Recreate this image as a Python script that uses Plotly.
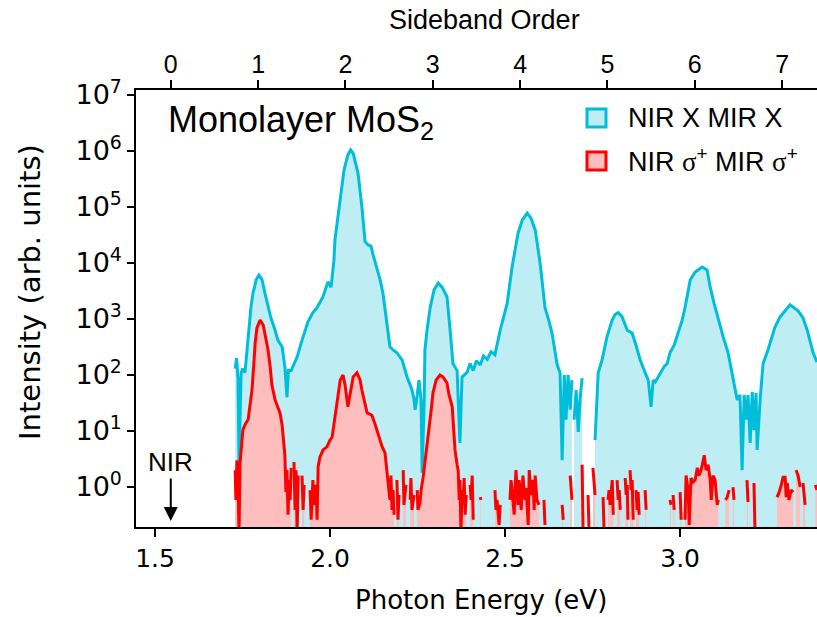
import plotly.graph_objects as go

# ---------------- data ----------------
NIR_EV = 1.545          # NIR photon energy (sideband 0)
MIR_EV = 0.2495         # sideband spacing
sideband_orders = [0, 1, 2, 3, 4, 5, 6, 7]
x_tick_vals = [1.5, 2.0, 2.5, 3.0]
x_tick_text = ["1.5", "2.0", "2.5", "3.0"]
y_exponents = [0, 1, 2, 3, 4, 5, 6, 7]

# NIR X MIR X
cyan_energy = [
    1.729, 1.733, 1.737, 1.740, 1.746, 1.751, 1.757, 1.763, 1.769, 1.774, 1.780, 1.789,
    1.797, 1.806, 1.814, 1.823, 1.831, 1.843, 1.851, 1.863, 1.871, 1.877, 1.881, 1.889,
    1.894, 1.906, 1.920, 1.937, 1.951, 1.963, 1.980, 1.994, 2.003, 2.011, 2.014, 2.023,
    2.029, 2.040, 2.051, 2.059, 2.066, 2.074, 2.080, 2.091, 2.100, 2.109, 2.117, 2.123,
    2.131, 2.143, 2.151, 2.160, 2.171, 2.180, 2.191, 2.206, 2.214, 2.220, 2.229, 2.234,
    2.240, 2.243, 2.249, 2.254, 2.260, 2.263, 2.269, 2.271, 2.277, 2.286, 2.297, 2.309,
    2.320, 2.334, 2.343, 2.351, 2.363, 2.371, 2.377, 2.391, 2.400, 2.409, 2.418, 2.429,
    2.438, 2.449, 2.460, 2.471,
    2.486, 2.497, 2.506, 2.520, 2.529, 2.537, 2.549, 2.563, 2.574, 2.586, 2.600, 2.614,
    2.626, 2.634, 2.649, 2.657, 2.663, 2.669, 2.674, 2.680, 2.686, 2.691, 2.694, 2.697,
    2.703, 2.709, 2.714, 2.720, 2.740, 2.757, 2.763, 2.766, 2.777, 2.791, 2.806, 2.814,
    2.823, 2.834, 2.849, 2.863, 2.874, 2.886, 2.900, 2.909, 2.917, 2.923, 2.929, 2.943,
    2.954, 2.963, 2.971, 2.983, 2.994, 3.006, 3.014, 3.029, 3.043, 3.057, 3.063, 3.077,
    3.086, 3.097, 3.109, 3.123, 3.137, 3.151, 3.163, 3.171, 3.177, 3.183, 3.189, 3.194,
    3.200, 3.206, 3.211, 3.217, 3.220, 3.229, 3.237, 3.251, 3.271, 3.286, 3.300, 3.314,
    3.337, 3.351, 3.363, 3.380, 3.391,
]
cyan_intensity = [
    1.3e2, 2.0e2, 88, 2.8, 1.1e2, 1.3e2, 1.1e2, 2.8e2, 6.3e2, 1.6e3, 2.9e3, 5.0e3,
    6.1e3, 5.0e3, 2.9e3, 1.8e3, 1.05e3, 6.3e2, 4.2e2, 3.2e2, 1.4e2, 40, 1.2e2, 1.2e2,
    1.4e2, 2.1e2, 4.2e2, 8.9e2, 1.3e3, 1.6e3, 2.5e3, 4.6e3, 3.7e3, 1.1e4, 2.6e4, 7.2e4,
    1.5e5, 4.6e5, 8.5e5, 1.04e6, 9.1e5, 5.6e5, 4.0e5, 1.0e5, 2.4e4, 2.1e4, 2.0e4, 1.4e4,
    9.2e3, 5.0e3, 2.9e3, 9.6e2, 3.2e2, 2.8e2, 2.5e2, 1.85e2, 1.2e2, 92, 66, 54,
    36, 24, 44, 81, 36, 1.8, 36, 2.8e2, 6.3e2, 1.6e3, 3.3e3, 4.4e3,
    3.7e3, 2.5e3, 6.3e2, 1.6e2, 1.2e2, 6.1, 92, 1.1e2, 1.6e2, 1.2e2, 1.8e2, 1.5e2,
    2.2e2, 1.9e2, 2.6e2, 2.3e2,
    6.3e2, 1.2e3, 1.9e3, 8.5e3, 1.7e4, 3.4e4, 5.8e4, 7.8e4, 6.3e4, 3.9e4, 1.0e4, 1.6e3,
    8.9e2, 5.6e2, 1.5e2, 1.1e2, 3.0, 1.0e2, 16, 1.0e2, 24, 81, None, 16,
    54, 9.6, 36, 88, None, 6.9, 36, 1.1e2, 1.85e2, 4.8e2, 9.6e2, 1.2e3,
    1.3e3, 1.1e3, 6.3e2, 5.6e2, 3.4e2, 1.85e2, 1.1e2, 81, 27, 81, 75, 1.1e2,
    1.4e2, 1.6e2, 2.5e2, 3.4e2, 5.6e2, 9.6e2, 1.6e3, 5.0e3, 6.9e3, 8.1e3, 8.5e3, 7.5e3,
    3.7e3, 1.9e3, 9.6e2, 4.8e2, 2.5e2, 81, 36, 44, 2.0, 44, 16, 44,
    6.1, 50, 10.4, 48, 4.6, 40, 1.6e2, 2.8e2, 7.2e2, 1.1e3, 1.4e3, 1.8e3,
    1.4e3, 1.05e3, 6.3e2, 2.5e2, 1.7e2,
]

# NIR sigma+ MIR sigma+
red_energy = [
    1.729, 1.731, 1.734, 1.737, 1.740, 1.743, 1.751, 1.757, 1.766, 1.771, 1.777, 1.783,
    1.786, 1.791, 1.800, 1.809, 1.814, 1.823, 1.829, 1.834, 1.843, 1.849, 1.857, 1.863,
    1.866, 1.871, 1.874, 1.877, 1.880, 1.883, 1.886, 1.889, 1.893, 1.897, 1.900, 1.903,
    1.906, 1.909, 1.915, 1.920, 1.923, 1.926, 1.935, 1.943, 1.946, 1.951, 1.954, 1.960,
    1.963, 1.966, 1.971, 1.980, 1.991, 2.000, 2.006, 2.011, 2.014, 2.020, 2.029, 2.037,
    2.043, 2.051, 2.057, 2.066, 2.077, 2.086, 2.091, 2.100, 2.106, 2.114, 2.120, 2.129,
    2.134, 2.143, 2.149, 2.157, 2.163, 2.166, 2.171, 2.174, 2.177, 2.180, 2.183, 2.187,
    2.191, 2.194, 2.197, 2.203, 2.209, 2.211, 2.217, 2.223, 2.229, 2.231, 2.234, 2.240,
    2.245, 2.249, 2.251, 2.257, 2.260, 2.266, 2.274, 2.280, 2.289, 2.294, 2.303, 2.314,
    2.323, 2.334, 2.340, 2.349, 2.357, 2.363, 2.366, 2.369, 2.371, 2.374, 2.377, 2.380,
    2.383, 2.386, 2.389, 2.395, 2.400, 2.403, 2.406, 2.409, 2.420, 2.429, 2.431, 2.450,
    2.471, 2.474, 2.477, 2.483, 2.486, 2.500, 2.514, 2.517, 2.520, 2.526, 2.529, 2.531,
    2.537, 2.540, 2.543, 2.546, 2.551, 2.557, 2.560, 2.566, 2.569, 2.574, 2.580, 2.583,
    2.586, 2.591, 2.597, 2.604, 2.611, 2.614, 2.640, 2.663, 2.666, 2.676, 2.686, 2.691,
    2.705, 2.720, 2.723, 2.730, 2.737, 2.740, 2.746, 2.751, 2.757, 2.770, 2.780, 2.783,
    2.789, 2.794, 2.797, 2.800, 2.806, 2.809, 2.814, 2.820, 2.823, 2.826, 2.829, 2.836,
    2.843, 2.846, 2.849, 2.851, 2.854, 2.857, 2.860, 2.863, 2.866, 2.870, 2.874, 2.877,
    2.880, 2.883, 2.890, 2.900, 2.903, 2.930, 2.951, 2.960, 2.971, 2.974, 2.977, 2.980,
    2.983, 2.990, 3.000, 3.003, 3.009, 3.014, 3.017, 3.023, 3.026, 3.031, 3.037, 3.043,
    3.049, 3.054, 3.060, 3.066, 3.069, 3.074, 3.080, 3.086, 3.089, 3.094, 3.100, 3.106,
    3.109, 3.118, 3.129, 3.134, 3.140, 3.146, 3.151, 3.154, 3.170, 3.191, 3.194, 3.200,
    3.211, 3.214, 3.250, 3.277, 3.283, 3.289, 3.294, 3.300, 3.303, 3.306, 3.311, 3.317,
    3.323, 3.327, 3.331, 3.337, 3.343, 3.347, 3.351, 3.357, 3.370, 3.386, 3.391,
]
red_intensity = [
    2.0, 0.59, 3.0, 1.33, 0.15, 2.7, 10.4, 13, 16, 29, 54, 1.85e2,
    3.7e2, 6.9e2, 9.6e2, 7.8e2, 5.6e2, 2.8e2, 1.4e2, 66, 36, 29, 21, 13,
    6.9, 3.7, 0.81, 2.0, 0.32, 1.33, 0.59, 2.2, None, 2.8, 0.39, 2.0,
    0.15, 1.6, None, 1.6, 0.39, 1.09, None, 0.88, 0.26, 1.33, 0.48, 1.09,
    0.26, 2.3, 3.4, 4.6, 5.2, 6.9, 7.8, 13, 18, 36, 81, 1.0e2,
    66, 27, 44, 92, 1.1e2, 81, 54, 29, 21, 20, 19, 13,
    10.4, 6.9, 5.2, 4.1, 2.0, 1.18, 0.59, 1.6, 0.39, 0.88, 0.32, None,
    1.33, 0.26, 0.72, None, 2.0, 0.48, 1.09, None, 0.59, 1.45, 0.39, 0.72,
    None, 0.88, 0.39, 0.52, 0.88, 1.5, 3.7, 9.2, 24, 48, 81, 1.0e2,
    92, 72, 44, 27, 4.6, 2.5, 2.0, 0.59, 1.33, 0.15, 0.88, 0.48,
    1.45, 0.32, 0.72, None, 1.09, 0.59, 1.6, 0.26, None, 0.66, 0.59, None,
    0.88, 0.39, 0.59, 0.21, 0.48, None, 0.59, 1.33, 0.88, 0.32, 1.09, 2.0,
    0.48, 1.33, 0.88, 0.39, 1.6, 0.59, 0.96, 0.21, 2.0, 0.72, 1.33, 0.39,
    1.6, 0.59, 0.48, None, 0.59, 0.21, None, 0.48, 0.26, None, 1.6, 0.59,
    None, 2.5, 0.15, None, 0.72, 0.15, None, 2.2, 0.72, None, 0.66, 0.15,
    None, 0.59, 0.88, 0.48, 1.33, 0.32, None, 1.33, 0.59, 0.88, 0.39, None,
    1.45, 0.72, 1.09, 0.26, None, 2.0, 0.88, 1.33, 0.26, None, 0.88, 0.39,
    0.81, 0.32, None, 0.88, 0.39, None, 0.56, None, 0.59, 0.48, None, 0.72,
    0.39, None, 0.81, 0.26, None, 0.26, 1.6, 0.88, 0.21, 1.45, 1.23, 1.33,
    2.2, 1.6, 2.0, 3.0, 3.7, 2.0, 2.5, 1.33, 0.59, 1.6, 1.33, 0.48,
    0.59, None, 0.59, 0.64, 0.88, None, 1.0, 0.59, None, 1.33, 0.54, None,
    1.18, 0.15, None, 0.66, 0.81, 1.09, 1.5, 1.5, 0.66, 1.18, 0.59, 0.88,
    0.81, None, 2.0, 1.6, 1.0, None, 1.18, 0.48, None, 1.09, 0.88,
]

# ---------------- styling / layout ----------------
W, H = 817, 617
L, R, T, B = 136, 817, 90, 527
X_RANGE = [1.4457, 3.391]
Y_RANGE = [-0.714, 7.089]

CYAN_LINE = "rgb(0,190,218)"
CYAN_FILL = "rgb(190,237,244)"
RED_LINE = "rgb(255,0,0)"
RED_FILL = "rgb(255,190,190)"
LUCIDA = "DejaVu Sans"
ARIAL = "Liberation Sans"


def px_x(p):
    return (p - L) / (R - L)


def px_y(p):
    return (B - p) / (B - T)


def segments(xs, ys):
    """Split a series at missing values so each piece is filled on its own."""
    out, cx, cy = [], [], []
    for x, y in zip(xs, ys):
        if y is None:
            if cx:
                out.append((cx, cy))
            cx, cy = [], []
        else:
            cx.append(x)
            cy.append(y)
    if cx:
        out.append((cx, cy))
    return out


fig = go.Figure()
for sx, sy in segments(cyan_energy, cyan_intensity):
    fig.add_trace(go.Scatter(
        x=sx, y=sy, mode="lines", fill="tozeroy",
        fillcolor=CYAN_FILL, line=dict(color=CYAN_LINE, width=3),
        showlegend=False, hoverinfo="skip"))
for sx, sy in segments(red_energy, red_intensity):
    fig.add_trace(go.Scatter(
        x=sx, y=sy, mode="lines", fill="tozeroy",
        fillcolor=RED_FILL, line=dict(color=RED_LINE, width=3),
        showlegend=False, hoverinfo="skip"))

sideband_vals = [NIR_EV + n * MIR_EV for n in sideband_orders]

fig.update_layout(
    width=W, height=H,
    margin=dict(l=L, r=W - R, t=T, b=H - B, pad=0),
    paper_bgcolor="white", plot_bgcolor="white",
    xaxis=dict(range=X_RANGE, tickvals=x_tick_vals, ticktext=x_tick_text,
               ticks="outside", ticklen=8, tickwidth=1.5, tickcolor="black",
               showline=True, linecolor="black", linewidth=1.5,
               showgrid=False, zeroline=False,
               tickfont=dict(family=LUCIDA, size=25, color="black")),
    xaxis2=dict(range=X_RANGE, overlaying="x", side="top", anchor="y",
                tickvals=sideband_vals, ticktext=[str(n) for n in sideband_orders],
                ticks="outside", ticklen=8, tickwidth=1.5, tickcolor="black",
                showline=True, linecolor="black", linewidth=1.5,
                showgrid=False, zeroline=False, ticklabelstandoff=-3,
                tickfont=dict(family=ARIAL, size=25, color="black")),
    yaxis=dict(type="log", range=Y_RANGE,
               tickvals=[10 ** e for e in y_exponents],
               ticktext=["10<sup>%d</sup>" % e for e in y_exponents],
               ticks="outside", ticklen=7, tickwidth=1.5, tickcolor="black",
               showline=True, linecolor="black", linewidth=1.5,
               showgrid=False, zeroline=False,
               tickfont=dict(family=LUCIDA, size=27, color="black")),
)

# hidden trace so the top axis is drawn
fig.add_trace(go.Scatter(x=[sideband_vals[0]], y=[None], xaxis="x2", yaxis="y",
                         mode="lines", showlegend=False, hoverinfo="skip"))

ann = []
ann.append(dict(text="Sideband Order", x=px_x(484), y=px_y(20), xref="paper", yref="paper",
                xanchor="center", yanchor="middle", showarrow=False,
                font=dict(family=ARIAL, size=27, color="black")))
ann.append(dict(text="Photon Energy (eV)", x=px_x(481), y=px_y(600), xref="paper", yref="paper",
                xanchor="center", yanchor="middle", showarrow=False,
                font=dict(family=LUCIDA, size=26, color="black")))
ann.append(dict(text="Intensity (arb. units)", x=px_x(30), y=px_y(292), xref="paper", yref="paper",
                xanchor="center", yanchor="middle", showarrow=False, textangle=-90,
                font=dict(family=LUCIDA, size=29, color="black")))
ann.append(dict(text="Monolayer MoS<sub>2</sub>", x=px_x(166), y=px_y(122), xref="paper", yref="paper",
                xanchor="left", yanchor="middle", showarrow=False,
                font=dict(family=ARIAL, size=36, color="black")))
ann.append(dict(text="NIR X MIR X", x=px_x(626), y=px_y(118), xref="paper", yref="paper",
                xanchor="left", yanchor="middle", showarrow=False,
                font=dict(family=ARIAL, size=27, color="black")))
ann.append(dict(text="NIR <span style='font-family:Liberation Serif'>σ</span><sup>+</sup> MIR "
                     "<span style='font-family:Liberation Serif'>σ</span><sup>+</sup>",
                x=px_x(626), y=px_y(160), xref="paper", yref="paper",
                xanchor="left", yanchor="middle", showarrow=False,
                font=dict(family=ARIAL, size=27, color="black")))
ann.append(dict(text="NIR", x=NIR_EV, y=px_y(462), xref="x", yref="paper",
                xanchor="center", yanchor="middle", showarrow=False,
                font=dict(family=ARIAL, size=26, color="black")))
ann.append(dict(text="", x=NIR_EV, y=px_y(521), xref="x", yref="paper",
                showarrow=True, ax=0, ay=-44, axref="pixel", ayref="pixel",
                arrowhead=2, arrowsize=1.4, arrowwidth=2, arrowcolor="black", standoff=0))
fig.update_layout(annotations=ann)

shapes = [
    dict(type="rect", xref="paper", yref="paper", x0=px_x(587), x1=px_x(606),
         y0=px_y(127), y1=px_y(109), fillcolor=CYAN_FILL, line=dict(color=CYAN_LINE, width=3)),
    dict(type="rect", xref="paper", yref="paper", x0=px_x(587), x1=px_x(606),
         y0=px_y(170), y1=px_y(152), fillcolor=RED_FILL, line=dict(color=RED_LINE, width=3)),
]
fig.update_layout(shapes=shapes)

fig.write_html("out.html")
